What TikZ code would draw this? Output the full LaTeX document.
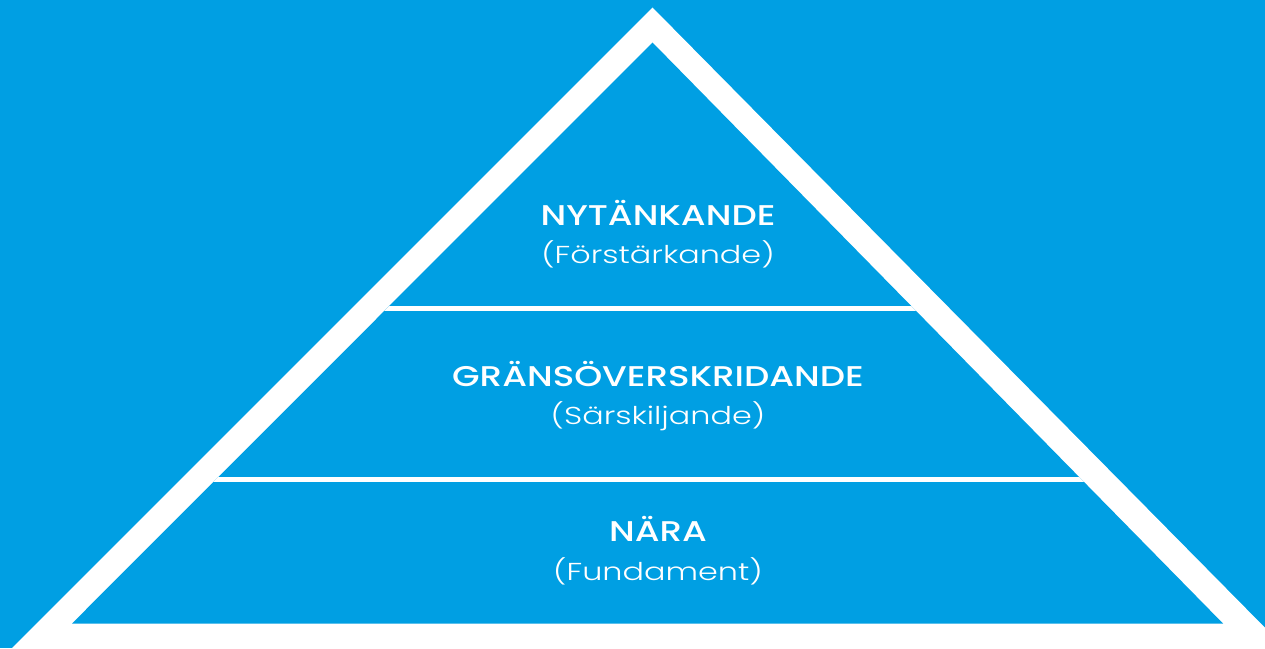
\documentclass[tikz,border=0pt]{standalone}
\usepackage{fontspec}
\usepackage{xcolor}
\usepackage{tikz}
\setmainfont{Poppins}
\newfontfamily\headfont[FakeStretch=1.25]{Poppins Medium}
\newfontfamily\subfont[FakeStretch=1.3]{Poppins Light}

\definecolor{pyrblue}{RGB}{0,159,227}

\tikzset{
    levelhead/.style={text=white, font=\headfont\fontsize{28.5}{30}\selectfont, anchor=base, inner sep=0pt},
    levelsub/.style={text=white, font=\subfont\fontsize{24.5}{28}\selectfont, anchor=base, inner sep=0pt},
    divider/.style={white, line width=5pt}
}

\begin{document}
\begin{tikzpicture}[x=1pt, y=-1pt]
    % Background
    \fill[pyrblue] (0,0) rectangle (1265,648);
    \useasboundingbox (0,0) rectangle (1265,648);

    % Pyramid corners
    \coordinate (outerL) at (12,648);
    \coordinate (outerT) at (652.5,7.5);
    \coordinate (outerR) at (1285,648);
    \coordinate (innerL) at (72,623.5);
    \coordinate (innerT) at (652.5,42.5);
    \coordinate (innerR) at (1223,623.5);

    % White frame and blue pyramid
    \begin{scope}
        \clip (0,0) rectangle (1265,648);
        \fill[white] (outerL) -- (outerT) -- (outerR) -- cycle;
    \end{scope}
    \fill[pyrblue] (innerL) -- (innerT) -- (innerR) -- cycle;

    % Level dividers
    \begin{scope}
        \clip (innerL) -- (innerT) -- (innerR) -- cycle;
        \draw[divider] (0,308.5) -- (1265,308.5);
        \draw[divider] (0,479.5) -- (1265,479.5);
    \end{scope}

    % Level labels
    \node[levelhead] (nyt) at (658,225) {NYTÄNKANDE};
    \node[levelsub] (forst) at (658,263.5) {(Förstärkande)};

    \node[levelhead] (grans) at (658,386) {GRÄNSÖVERSKRIDANDE};
    \node[levelsub] (sarsk) at (658,424.5) {(Särskiljande)};

    \node[levelhead] (nara) at (658,541.5) {NÄRA};
    \node[levelsub] (fund) at (658,580) {(Fundament)};
\end{tikzpicture}
\end{document}
